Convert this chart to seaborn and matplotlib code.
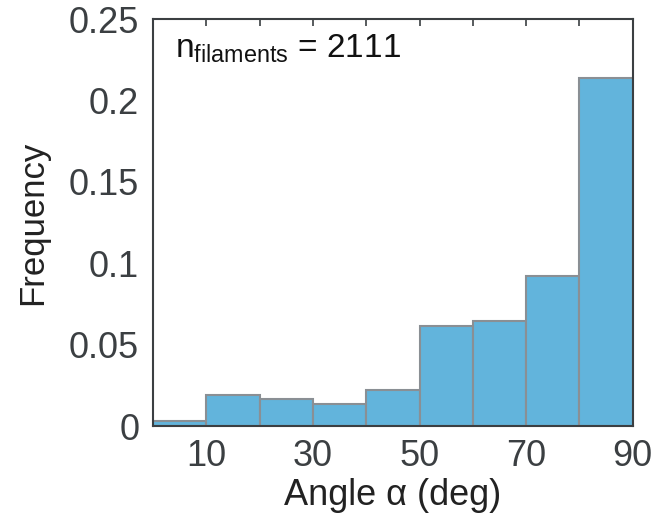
import numpy as np
import matplotlib
matplotlib.use("Agg")
import matplotlib.pyplot as plt
import seaborn as sns

# Histogram of filament angles (bin centres + frequencies)
bin_edges = [0, 10, 20, 30, 40, 50, 60, 70, 80, 90]
bin_centers = [5, 15, 25, 35, 45, 55, 65, 75, 85]
frequency = [0.003, 0.019, 0.0165, 0.0136, 0.022, 0.0617, 0.0644, 0.0922, 0.2136]
n_filaments = 2111

x_ticks = [0, 10, 20, 30, 40, 50, 60, 70, 80, 90]
x_ticklabels = ["", "10", "", "30", "", "50", "", "70", "", "90"]
y_ticks = [0, 0.05, 0.1, 0.15, 0.2, 0.25]
y_ticklabels = ["0", "0.05", "0.1", "0.15", "0.2", "0.25"]

sns.set_style("white")
plt.rcParams["font.family"] = ["Liberation Sans", "DejaVu Sans"]
plt.rcParams["mathtext.fontset"] = "custom"
plt.rcParams["mathtext.rm"] = "Liberation Sans"

fig = plt.figure(figsize=(6.57, 5.17), dpi=100)
ax = fig.add_axes([0.233, 0.176, 0.730, 0.787])

sns.histplot(x=bin_centers, weights=frequency, bins=bin_edges, stat="count",
             color="#62b4dc", edgecolor="#8a8f94", linewidth=1.5, alpha=1.0, ax=ax)

ax.set_xlim(0, 90)
ax.set_ylim(0, 0.25)
ax.set_xticks(x_ticks)
ax.set_xticklabels(x_ticklabels)
ax.set_yticks(y_ticks)
ax.set_yticklabels(y_ticklabels)

dark = "#3b3f42"
for s in ax.spines.values():
    s.set_visible(True)
    s.set_color(dark)
    s.set_linewidth(1.5)
ax.tick_params(direction="in", top=True, right=True, length=5, width=1.2,
               colors=dark, labelsize=26)
ax.tick_params(axis="y", pad=10)
ax.tick_params(axis="x", pad=9)

ax.set_xlabel("Angle α (deg)", fontsize=26, color="#222222", labelpad=3)
ax.set_ylabel("Frequency", fontsize=25, color="#222222", labelpad=14)

ax.text(0.045, 0.907, r"n$_{\mathregular{filaments}}$ = " + str(n_filaments),
        transform=ax.transAxes, fontsize=24, color="#111111", va="baseline")

fig.savefig("out.png", dpi=100)
